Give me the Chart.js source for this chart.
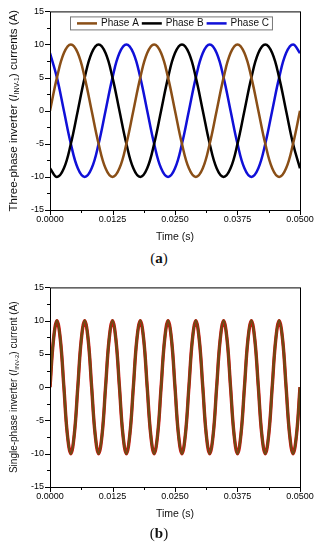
<!DOCTYPE html>
<html>
<head>
<meta charset="utf-8">
<script src="https://cdn.jsdelivr.net/npm/chart.js@4.4.1/dist/chart.umd.min.js"></script>
<style>
  body { margin: 0; background: #fff; width: 318px; height: 550px; position: relative; overflow: hidden; }
  canvas { position: absolute; left: 0; }
  #c1 { top: 0; }
  #c2 { top: 276px; }
  .cap { position: absolute; left: 0; width: 318px; text-align: center; font-family: 'Liberation Serif', 'Times New Roman', serif; font-size: 15px; line-height: 22px; color: #111; }
</style>
</head>
<body>
<canvas id="c1" width="318" height="247"></canvas>
<div class="cap" style="top:247px">(<b>a</b>)</div>
<canvas id="c2" width="318" height="248"></canvas>
<div class="cap" style="top:522px">(<b>b</b>)</div>
<script>
// (a) three-phase currents, sampled every 30 degrees of a 60 Hz period
const timesThree = [0, 0.00139, 0.00278, 0.00417, 0.00556, 0.00694, 0.00833, 0.00972, 0.01111, 0.0125,
    0.01389, 0.01528, 0.01667, 0.01806, 0.01944, 0.02083, 0.02222, 0.02361, 0.025, 0.02639,
    0.02778, 0.02917, 0.03056, 0.03194, 0.03333, 0.03472, 0.03611, 0.0375, 0.03889, 0.04028,
    0.04167, 0.04306, 0.04444, 0.04583, 0.04722, 0.04861, 0.05];
const phaseA = [0, 5, 8.7, 10, 8.7, 5, 0, -5, -8.7, -10, -8.7, -5,
    0, 5, 8.7, 10, 8.7, 5, 0, -5, -8.7, -10, -8.7, -5,
    0, 5, 8.7, 10, 8.7, 5, 0, -5, -8.7, -10, -8.7, -5, 0];
const phaseB = [-8.7, -10, -8.7, -5, 0, 5, 8.7, 10, 8.7, 5, 0, -5,
    -8.7, -10, -8.7, -5, 0, 5, 8.7, 10, 8.7, 5, 0, -5,
    -8.7, -10, -8.7, -5, 0, 5, 8.7, 10, 8.7, 5, 0, -5, -8.7];
const phaseC = [8.7, 5, 0, -5, -8.7, -10, -8.7, -5, 0, 5, 8.7, 10,
    8.7, 5, 0, -5, -8.7, -10, -8.7, -5, 0, 5, 8.7, 10,
    8.7, 5, 0, -5, -8.7, -10, -8.7, -5, 0, 5, 8.7, 10, 8.7];
const seriesNames = ['Phase A', 'Phase B', 'Phase C'];

// (b) single-phase current, sampled every 45 degrees
const timesSingle = [0, 0.00069, 0.00139, 0.00208, 0.00278, 0.00347, 0.00417, 0.00486, 0.00556, 0.00625,
    0.00694, 0.00764, 0.00833, 0.00903, 0.00972, 0.01042, 0.01111, 0.01181, 0.0125, 0.01319,
    0.01389, 0.01458, 0.01528, 0.01597, 0.01667, 0.01736, 0.01806, 0.01875, 0.01944, 0.02014,
    0.02083, 0.02153, 0.02222, 0.02292, 0.02361, 0.02431, 0.025, 0.02569, 0.02639, 0.02708,
    0.02778, 0.02847, 0.02917, 0.02986, 0.03056, 0.03125, 0.03194, 0.03264, 0.03333, 0.03403,
    0.03472, 0.03542, 0.03611, 0.03681, 0.0375, 0.03819, 0.03889, 0.03958, 0.04028, 0.04097,
    0.04167, 0.04236, 0.04306, 0.04375, 0.04444, 0.04514, 0.04583, 0.04653, 0.04722, 0.04792,
    0.04861, 0.04931, 0.05];
const singleOut = [0, 7.1, 10, 7.1, 0, -7.1, -10, -7.1, 0, 7.1, 10, 7.1, 0, -7.1, -10, -7.1,
    0, 7.1, 10, 7.1, 0, -7.1, -10, -7.1, 0, 7.1, 10, 7.1, 0, -7.1, -10, -7.1,
    0, 7.1, 10, 7.1, 0, -7.1, -10, -7.1, 0, 7.1, 10, 7.1, 0, -7.1, -10, -7.1,
    0, 7.1, 10, 7.1, 0, -7.1, -10, -7.1, 0, 7.1, 10, 7.1, 0, -7.1, -10, -7.1,
    0, 7.1, 10, 7.1, 0, -7.1, -10, -7.1, 0];
const singleRef = [0, 7.1, 10, 7.1, 0, -7.1, -10, -7.1, 0, 7.1, 10, 7.1, 0, -7.1, -10, -7.1,
    0, 7.1, 10, 7.1, 0, -7.1, -10, -7.1, 0, 7.1, 10, 7.1, 0, -7.1, -10, -7.1,
    0, 7.1, 10, 7.1, 0, -7.1, -10, -7.1, 0, 7.1, 10, 7.1, 0, -7.1, -10, -7.1,
    0, 7.1, 10, 7.1, 0, -7.1, -10, -7.1, 0, 7.1, 10, 7.1, 0, -7.1, -10, -7.1,
    0, 7.1, 10, 7.1, 0, -7.1, -10, -7.1, 0];

const xTickLabels = ['0.0000', '0.0125', '0.0250', '0.0375', '0.0500'];
const yTickLabels = ['-15', '-10', '-5', '0', '5', '10', '15'];

const FONT = "'Liberation Sans', Arial, sans-serif";
Chart.defaults.font.family = FONT;
Chart.defaults.color = '#000';

function pts(xs, ys) {
    return xs.map((x, i) => ({ x: x, y: ys[i] }));
}

// frame around the plot, outward major/minor ticks, rotated y title with subscript
const framePlugin = {
    id: 'frame',
    afterDraw(chart, args, opts) {
        const ctx = chart.ctx;
        const a = chart.chartArea;
        ctx.save();
        ctx.strokeStyle = '#000';
        ctx.lineWidth = 1;
        ctx.strokeRect(a.left + 0.5, a.top + 0.5, a.right - a.left, a.bottom - a.top);

        ctx.beginPath();
        const xs = chart.scales.x;
        xs.ticks.forEach((t, i) => {
            const px = Math.round(xs.getPixelForValue(t.value)) + 0.5;
            ctx.moveTo(px, a.bottom);
            ctx.lineTo(px, a.bottom + (i % 2 === 0 ? 5 : 3));
        });
        const ys = chart.scales.y;
        ys.ticks.forEach((t, i) => {
            const py = Math.round(ys.getPixelForValue(t.value)) + 0.5;
            ctx.moveTo(a.left, py);
            ctx.lineTo(a.left - (i % 2 === 0 ? 5 : 3), py);
        });
        ctx.stroke();

        // y title
        const size = opts.size;
        const parts = [
            { t: opts.pre, f: size + 'px ' + FONT, dy: 0 },
            { t: 'I', f: 'italic ' + size + 'px ' + FONT, dy: 0 },
            { t: opts.sub, f: Math.round(size * 0.62) + 'px ' + FONT, dy: size * 0.3 },
            { t: opts.post, f: size + 'px ' + FONT, dy: 0 }
        ];
        let total = 0;
        parts.forEach(p => { ctx.font = p.f; p.w = ctx.measureText(p.t).width; total += p.w; });
        ctx.translate(opts.x, (a.top + a.bottom) / 2);
        ctx.rotate(-Math.PI / 2);
        ctx.fillStyle = '#111';
        ctx.textBaseline = 'middle';
        ctx.textAlign = 'left';
        let cx = -total / 2;
        parts.forEach(p => { ctx.font = p.f; ctx.fillText(p.t, cx, p.dy); cx += p.w; });
        ctx.restore();
    }
};

// boxed legend inside the plot
const boxLegend = {
    id: 'boxLegend',
    afterDraw(chart, args, opts) {
        if (!opts.show) return;
        const ctx = chart.ctx;
        const a = chart.chartArea;
        const left = a.left + 20, top = a.top + 5;
        ctx.save();
        ctx.font = '10px ' + FONT;
        let x = left + 7;
        const y = top + 7;
        const items = chart.data.datasets.map(ds => ({ name: ds.label, color: ds.borderColor }));
        let right = x;
        items.forEach(it => { right += 20 + 4 + ctx.measureText(it.name).width + 3; });
        ctx.fillStyle = '#fff';
        ctx.fillRect(left, top, right - left, 13);
        ctx.strokeStyle = '#777';
        ctx.lineWidth = 1;
        ctx.strokeRect(left + 0.5, top + 0.5, right - left, 13);
        ctx.textBaseline = 'middle';
        items.forEach(it => {
            ctx.strokeStyle = it.color;
            ctx.lineWidth = 2.5;
            ctx.beginPath();
            ctx.moveTo(x, y);
            ctx.lineTo(x + 20, y);
            ctx.stroke();
            x += 24;
            ctx.fillStyle = '#111';
            ctx.fillText(it.name, x, y);
            x += ctx.measureText(it.name).width + 3;
        });
        ctx.restore();
    }
};

function axes() {
    return {
        x: {
            type: 'linear', min: 0, max: 0.05,
            grid: { display: false, drawTicks: false },
            border: { display: false },
            ticks: {
                stepSize: 0.00625, autoSkip: false, maxRotation: 0, padding: 4,
                font: { size: 9 },
                callback: (v, i) => (i % 2 === 0 ? xTickLabels[i / 2] : '')
            },
            title: { display: true, text: 'Time (s)', font: { size: 10.5 }, color: '#111', padding: { top: 0, bottom: 4 } },
            afterFit(scale) { scale.height = 37; }
        },
        y: {
            min: -15, max: 15,
            grid: { display: false, drawTicks: false },
            border: { display: false },
            ticks: {
                stepSize: 2.5, autoSkip: false, padding: 6,
                font: { size: 9 },
                callback: (v, i) => (i % 2 === 0 ? yTickLabels[i / 2] : '')
            },
            afterFit(scale) { scale.width = 50; }
        }
    };
}

function line(label, xs, ys, color, width) {
    return {
        label: label,
        data: pts(xs, ys),
        borderColor: color,
        borderWidth: width,
        pointRadius: 0,
        tension: 0.4,
        fill: false
    };
}

new Chart(document.getElementById('c1'), {
    type: 'line',
    data: {
        datasets: [
            line(seriesNames[0], timesThree, phaseA, '#8a4f17', 2.5),
            line(seriesNames[1], timesThree, phaseB, '#000000', 2.5),
            line(seriesNames[2], timesThree, phaseC, '#1010d8', 2.5)
        ]
    },
    options: {
        responsive: false,
        animation: false,
        devicePixelRatio: 1,
        layout: { padding: { top: 10, right: 18, left: 0, bottom: 0 } },
        scales: axes(),
        plugins: {
            legend: { display: false },
            tooltip: { enabled: false },
            frame: { x: 14, size: 11.5, pre: 'Three-phase inverter (', sub: 'INV-1', post: ') currents (A)' },
            boxLegend: { show: true }
        }
    },
    plugins: [framePlugin, boxLegend]
});

new Chart(document.getElementById('c2'), {
    type: 'line',
    data: {
        datasets: [
            line('Output', timesSingle, singleOut, '#6e4a14', 2.6),
            line('Reference', timesSingle, singleRef, '#d81010', 3.4)
        ]
    },
    options: {
        responsive: false,
        animation: false,
        devicePixelRatio: 1,
        layout: { padding: { top: 10, right: 18, left: 0, bottom: 0 } },
        scales: axes(),
        plugins: {
            legend: { display: false },
            tooltip: { enabled: false },
            frame: { x: 14, size: 10, pre: 'Single-phase inverter (', sub: 'INV-2', post: ') current (A)' },
            boxLegend: { show: false }
        }
    },
    plugins: [framePlugin, boxLegend]
});
</script>
</body>
</html>
